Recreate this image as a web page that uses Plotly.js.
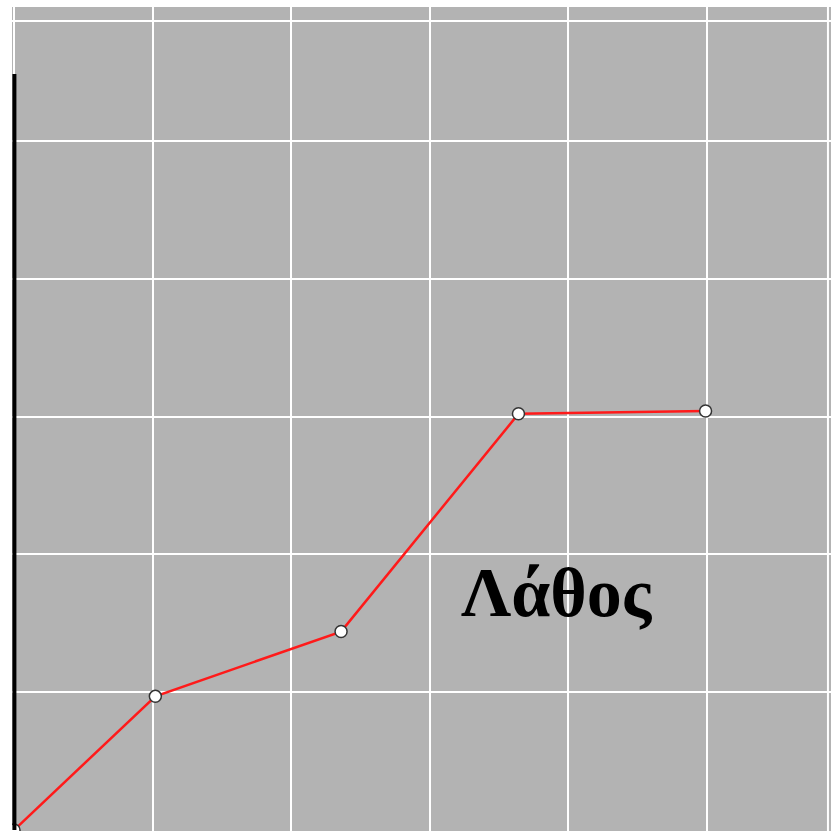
<!DOCTYPE html>
<html><head><meta charset="utf-8">
<script src="https://cdn.plot.ly/plotly-3.0.1.min.js"></script>
<style>html,body{margin:0;padding:0;background:#fff;}#chart{width:831px;height:831px;}</style>
</head><body><div id="chart"></div>
<script>
const xValues = [0, 1.02, 2.36, 3.64, 4.99];
const yValues = [0, 0.97, 1.44, 3.02, 3.04];
const labelText = "Λάθος";
const labelPos = [3.92, 1.72];

const trace = {
  x: xValues, y: yValues, type: 'scatter', mode: 'lines+markers',
  line: {color: '#ff1a1a', width: 2.5},
  marker: {size: 12, color: '#ffffff', line: {color: '#333333', width: 1.5}},
  hoverinfo: 'none'
};
const layout = {
  width: 831, height: 831,
  margin: {l: 12, r: 0, t: 7, b: 0, pad: 0},
  paper_bgcolor: '#ffffff', plot_bgcolor: '#b3b3b3',
  showlegend: false,
  xaxis: {range: [-0.0144, 5.895], dtick: 1, tick0: 0, showgrid: true, gridcolor: '#ffffff', gridwidth: 2,
          zeroline: false, showticklabels: false, ticks: '', showline: false, fixedrange: true},
  yaxis: {range: [-0.007, 5.972], dtick: 1, tick0: 0, showgrid: true, gridcolor: '#ffffff', gridwidth: 2,
          zeroline: false, showticklabels: false, ticks: '', showline: false, fixedrange: true},
  shapes: [
    {type: 'line', xref: 'x', yref: 'y', x0: 5.873, x1: 5.873, y0: -0.1, y1: 6.1, line: {color: '#ffffff', width: 2}, layer: 'below'},
    {type: 'line', xref: 'x', yref: 'y', x0: -0.1, x1: 6.1, y0: 5.871, y1: 5.871, line: {color: '#ffffff', width: 2}, layer: 'below'},
    {type: 'line', xref: 'x', yref: 'y', x0: 0.003, x1: 0.003, y0: 0, y1: 5.486, line: {color: '#000000', width: 4}}
  ],
  annotations: [
    {x: labelPos[0], y: labelPos[1], xref: 'x', yref: 'y', text: '<b>' + labelText + '</b>', showarrow: false,
     font: {family: 'Liberation Serif, Times New Roman, serif', size: 70, color: '#000000'}}
  ]
};
Plotly.newPlot('chart', [trace], layout, {staticPlot: true, displayModeBar: false});
</script></body></html>
